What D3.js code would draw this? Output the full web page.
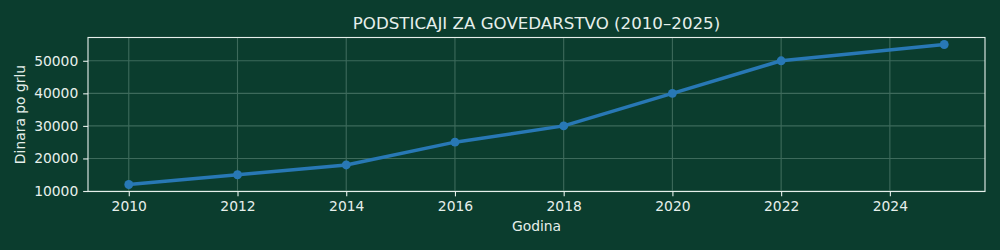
<!DOCTYPE html>
<html>
<head>
<meta charset="utf-8">
<script src="https://cdn.jsdelivr.net/npm/d3@7"></script>
<style>
  body { margin: 0; background: #0b3d2e; }
  svg, svg text { font-family: "DejaVu Sans", sans-serif; }
  svg { display: block; }
</style>
</head>
<body>
<svg id="chart" width="1000" height="250"></svg>
<script>
// data
var years = [2010, 2012, 2014, 2016, 2018, 2020, 2022, 2025];
var values = [12000, 15000, 18000, 25000, 30000, 40000, 50000, 55000];
var xTicks = [2010, 2012, 2014, 2016, 2018, 2020, 2022, 2024];
var yTicks = [10000, 20000, 30000, 40000, 50000];

var titleText = "PODSTICAJI ZA GOVEDARSTVO (2010–2025)";
var xLabel = "Godina";
var yLabel = "Dinara po grlu";

var W = 1000, H = 250;
var margin = {top: 37.5, right: 15, bottom: 58.5, left: 88};
var textColor = "#e6efeb";
var gridColor = "#3d6a5b";
var lineColor = "#2878b5";
var fontFam = "DejaVu Sans, sans-serif";
var pt = 100 / 72; // matplotlib points at 100 dpi

var svg = d3.select("#chart");
svg.append("rect").attr("width", W).attr("height", H).attr("fill", "#0b3d2e");

var x = d3.scaleLinear()
    .domain([2009.25, 2025.75])
    .range([margin.left, W - margin.right]);
var y = d3.scaleLinear()
    .domain([9850, 57150])
    .range([H - margin.bottom, margin.top]);

// grid
var grid = svg.append("g");
grid.selectAll(".gx").data(xTicks).enter().append("line")
    .attr("x1", d => x(d)).attr("x2", d => x(d))
    .attr("y1", margin.top).attr("y2", H - margin.bottom)
    .attr("stroke", gridColor).attr("stroke-width", 0.8 * pt);
grid.selectAll(".gy").data(yTicks).enter().append("line")
    .attr("x1", margin.left).attr("x2", W - margin.right)
    .attr("y1", d => y(d)).attr("y2", d => y(d))
    .attr("stroke", gridColor).attr("stroke-width", 0.8 * pt);

// axes
var xAxis = d3.axisBottom(x).tickValues(xTicks).tickFormat(d3.format("d")).tickSize(3.5 * pt).tickPadding(3.5 * pt);
var yAxis = d3.axisLeft(y).tickValues(yTicks).tickFormat(d3.format("d")).tickSize(3.5 * pt).tickPadding(3.5 * pt);

var gx = svg.append("g")
    .attr("transform", "translate(0," + (H - margin.bottom) + ")")
    .call(xAxis);
var gy = svg.append("g")
    .attr("transform", "translate(" + margin.left + ",0)")
    .call(yAxis);

[gx, gy].forEach(function(g) {
    g.attr("font-family", fontFam).attr("font-size", 10 * pt);
    g.select(".domain").remove();
    g.selectAll(".tick line").attr("stroke", textColor).attr("stroke-width", 0.8 * pt);
    g.selectAll(".tick text").attr("fill", textColor);
});

// frame
svg.append("rect")
    .attr("x", margin.left).attr("y", margin.top)
    .attr("width", W - margin.right - margin.left)
    .attr("height", H - margin.bottom - margin.top)
    .attr("fill", "none").attr("stroke", textColor).attr("stroke-width", 0.8 * pt);

// line + markers
var line = d3.line().x((d, i) => x(years[i])).y(d => y(d));
svg.append("path")
    .datum(values)
    .attr("d", line)
    .attr("fill", "none")
    .attr("stroke", lineColor)
    .attr("stroke-width", 2.5 * pt)
    .attr("stroke-linejoin", "round")
    .attr("stroke-linecap", "round");

svg.selectAll(".pt").data(values).enter().append("circle")
    .attr("cx", (d, i) => x(years[i]))
    .attr("cy", d => y(d))
    .attr("r", 3.2 * pt)
    .attr("fill", lineColor);

// text
svg.append("text")
    .attr("x", (margin.left + W - margin.right) / 2).attr("y", 29)
    .attr("text-anchor", "middle").attr("fill", textColor)
    .attr("font-family", fontFam).attr("font-size", 12 * pt)
    .text(titleText);

svg.append("text")
    .attr("x", (margin.left + W - margin.right) / 2).attr("y", 231)
    .attr("text-anchor", "middle").attr("fill", textColor)
    .attr("font-family", fontFam).attr("font-size", 10 * pt)
    .text(xLabel);

svg.append("text")
    .attr("transform", "translate(25," + ((margin.top + H - margin.bottom) / 2) + ") rotate(-90)")
    .attr("text-anchor", "middle").attr("fill", textColor)
    .attr("font-family", fontFam).attr("font-size", 10 * pt)
    .text(yLabel);
</script>
</body>
</html>
